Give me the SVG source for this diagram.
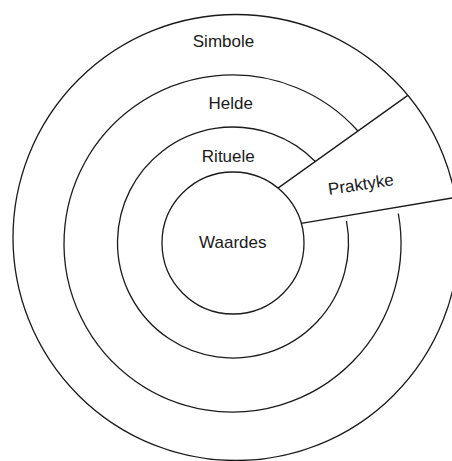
<svg xmlns="http://www.w3.org/2000/svg" width="452" height="461" viewBox="0 0 452 461">
  <style>
    .ring { fill: none; stroke: #1a1a1a; stroke-width: 1.3; }
    .lbl { font-family: "Liberation Sans", Arial, sans-serif; font-size: 17px; fill: #1a1a1a; text-anchor: middle; }
  </style>
  <rect width="452" height="461" fill="#ffffff"/>
  <g id="simbole">
    <circle class="ring" cx="236" cy="237.5" r="223"/>
    <text class="lbl" x="223.5" y="46.7">Simbole</text>
  </g>
  <g id="helde">
    <path class="ring" d="M398.31,213.5 A168.5,168.5 0 1 1 357.96,131.03"/>
    <text class="lbl" x="230.7" y="109.3">Helde</text>
  </g>
  <g id="rituele">
    <path class="ring" d="M346.48,221 A115.5,115.5 0 1 1 315.3,161.5"/>
    <text class="lbl" x="228.3" y="161.7">Rituele</text>
  </g>
  <g id="waardes">
    <circle class="ring" cx="233" cy="243" r="71"/>
    <text class="lbl" x="232.8" y="248.3">Waardes</text>
  </g>
  <g id="praktyke">
    <line class="ring" x1="278" y1="188.1" x2="407.8" y2="95.4"/>
    <line class="ring" x1="301.2" y1="223.3" x2="455" y2="197.5"/>
    <text class="lbl" x="361.7" y="190" transform="rotate(-8.5 361.7 190)">Praktyke</text>
  </g>
</svg>
